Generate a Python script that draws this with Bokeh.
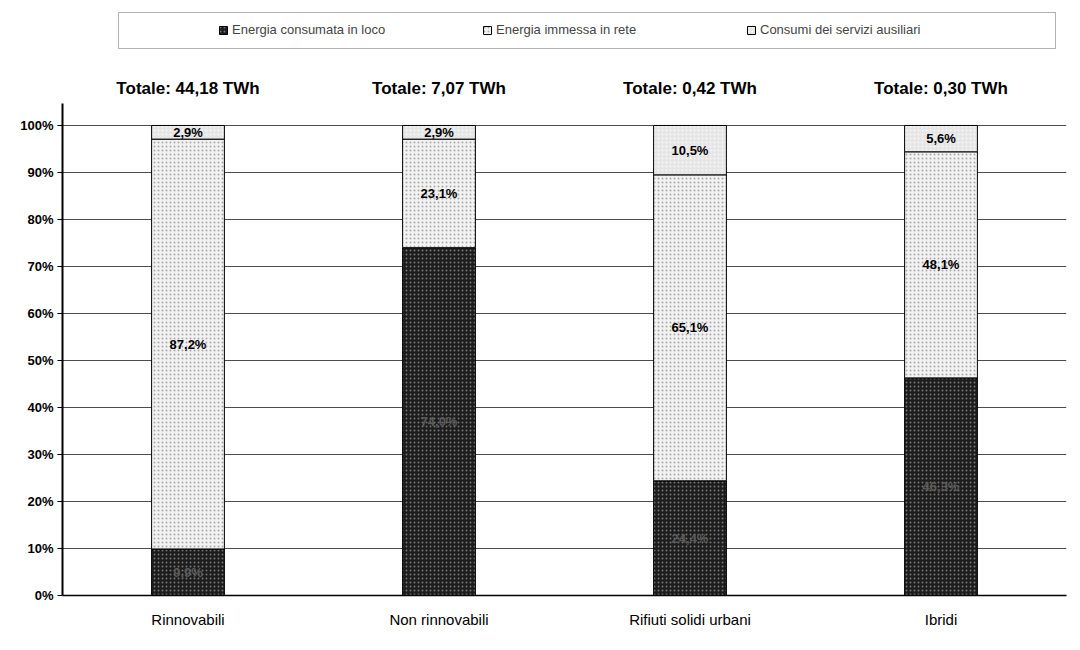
from bokeh.plotting import figure
from bokeh.models import (ColumnDataSource, Range1d, Legend, LegendItem, BoxAnnotation,
                          NumeralTickFormatter, FixedTicker)
from bokeh.core.properties import value
from bokeh.embed import file_html
from bokeh.resources import INLINE

categories = ["Rinnovabili", "Non rinnovabili", "Rifiuti solidi urbani", "Ibridi"]
totals = ["Totale: 44,18 TWh", "Totale: 7,07 TWh", "Totale: 0,42 TWh", "Totale: 0,30 TWh"]
consumata = [9.9, 74.0, 24.4, 46.3]
immessa = [87.2, 23.1, 65.1, 48.1]
ausiliari = [2.9, 2.9, 10.5, 5.6]
series_names = ["Energia consumata in loco", "Energia immessa in rete", "Consumi dei servizi ausiliari"]
y_ticks = [0, 0.1, 0.2, 0.3, 0.4, 0.5, 0.6, 0.7, 0.8, 0.9, 1.0]

FONT = "Liberation Sans"

def fmt(v):
    return f"{v:.1f}".replace(".", ",") + "%"

keys = ["consumata", "immessa", "ausiliari"]
src = ColumnDataSource(dict(
    cat=categories,
    consumata=[v / 100 for v in consumata],
    immessa=[v / 100 for v in immessa],
    ausiliari=[v / 100 for v in ausiliari],
))

p = figure(x_range=categories, y_range=Range1d(0, 1.2574), width=1072, height=645,
           output_backend="svg", toolbar_location=None,
           min_border_left=62, min_border_right=6, min_border_top=4, min_border_bottom=50)
p.outline_line_color = None
p.background_fill_color = "white"

fills = ["#1c1c1c", "#f2f2f2", "#e6e6e6"]
hatch_cols = ["#9a9a9a", "#8a8a8a", "#ffffff"]
renderers = p.vbar_stack(keys, x="cat", width=0.29, source=src,
                         fill_color=fills, line_color="black", line_width=1,
                         hatch_pattern="dot", hatch_color=hatch_cols, hatch_scale=4,
                         hatch_alpha=0.7, hatch_weight=1)

# segment labels
lx, ly, lt, lc = [], [], [], []
for i, c in enumerate(categories):
    base = 0.0
    for j, arr in enumerate([consumata, immessa, ausiliari]):
        v = arr[i] / 100
        lx.append(c)
        ly.append(base + v / 2)
        lt.append(fmt(arr[i]))
        lc.append("#5a5a5a" if j == 0 else "black")
        base += v
lsrc = ColumnDataSource(dict(x=lx, y=ly, t=lt, c=lc))
p.text(x="x", y="y", text="t", source=lsrc, text_color="c", text_align="center",
       text_baseline="middle", text_font=value(FONT), text_font_style="bold",
       text_font_size="13px")

# totals above bars
tsrc = ColumnDataSource(dict(x=categories, t=totals, y=[1.079] * 4))
p.text(x="x", y="y", text="t", source=tsrc, text_align="center", text_baseline="middle",
       text_font=value(FONT), text_font_style="bold", text_font_size="17px",
       text_color="black")

# axes
p.yaxis.ticker = FixedTicker(ticks=y_ticks)
p.yaxis.bounds = (0, 1.047)
p.yaxis.formatter = NumeralTickFormatter(format="0%")
p.yaxis.axis_line_color = "black"
p.yaxis.axis_line_width = 2
p.yaxis.major_tick_line_color = "black"
p.yaxis.major_tick_in = 0
p.yaxis.major_tick_out = 5
p.yaxis.minor_tick_line_color = None
p.yaxis.major_label_text_font = FONT
p.yaxis.major_label_text_font_style = "bold"
p.yaxis.major_label_text_font_size = "13px"
p.yaxis.major_label_text_color = "black"
p.yaxis.major_label_standoff = 4

p.xaxis.axis_line_color = "black"
p.xaxis.axis_line_width = 1.5
p.xaxis.major_tick_line_color = None
p.xaxis.major_label_text_font = FONT
p.xaxis.major_label_text_font_size = "15px"
p.xaxis.major_label_text_color = "black"
p.xaxis.major_label_standoff = 9

p.xgrid.grid_line_color = None
p.ygrid.grid_line_color = "black"
p.ygrid.grid_line_alpha = 0.7
p.ygrid.grid_line_width = 1

# legend
items = [LegendItem(label=n, renderers=[r]) for n, r in zip(series_names, renderers)]
legend = Legend(items=items, orientation="horizontal", location=(156, 558),
                padding=0, margin=0, spacing=10, glyph_width=10, glyph_height=10,
                label_width=240, label_height=14, label_standoff=4,
                label_text_font=FONT, label_text_font_size="13px",
                border_line_color=None, background_fill_alpha=0)
p.add_layout(legend, "center")
p.add_layout(BoxAnnotation(left=56, right=993, bottom=547, top=583,
                           left_units="screen", right_units="screen",
                           bottom_units="screen", top_units="screen",
                           fill_alpha=0, line_color="black", line_width=1))

open("out.html", "w").write(file_html(p, INLINE))
